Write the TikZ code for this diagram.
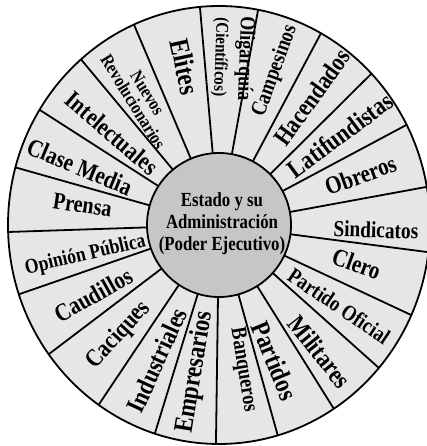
\documentclass[tikz,border=0pt]{standalone}
\usepackage{fontspec}
\setmainfont{Liberation Serif}
\usetikzlibrary{calc}
\definecolor{wheel}{RGB}{230,230,230}
\definecolor{hub}{RGB}{198,198,198}
\tikzset{spoke/.style={line width=1.8pt}, lbl/.style={inner sep=0pt,align=center,xscale=0.84}}

\begin{document}
\begin{tikzpicture}[x=1pt,y=1pt]
  \useasboundingbox (0,0) rectangle (427,446);
  \clip (0,0) rectangle (427,446);
  \coordinate (C) at (219,221);
  \fill[wheel] (C) ellipse [x radius=211pt,y radius=219pt];
  \begin{scope}
    \clip (C) ellipse [x radius=211pt,y radius=219pt];
    \foreach \a in {95.0,79.7,62.0,44.8,28.1,10.4,-7.4,-25.1,-41.8,-58.0,-74.4,-90.8,-107.1,-123.8,-142.8,-160.9,-178.1,164.2,147.3,129.8,113.0} \draw[spoke] ($(C)+(\a:72)$) -- ($(C)+(\a:240)$);
  \end{scope}
  \draw[spoke] (C) ellipse [x radius=211pt,y radius=219pt];
  \filldraw[spoke,fill=hub] (C) circle (72pt);
  \node[lbl,font=\fontsize{20}{22}\selectfont\bfseries] (estado) at ($(C)+(3,1)$) {Estado y su\\Administración\\(Poder Ejecutivo)};
  \foreach \a/\d/\r/\s/\t [count=\i] in {102.1/162/-77.9/28/Elites,121.7/150/-58.3/18.5/{Nuevos\\Revolucionarios},139.3/141/-40.7/25/Intelectuales,157.3/151/-22.7/25/Clase Media,171.7/138/-8.3/24/Prensa,192.8/137/13.1/21/Opinión Pública,209.1/144/29.1/25/Caudillos,227.7/149/47.7/25/Caciques,245.3/149/65.3/26/Industriales,260.7/149/80.7/27/Empresarios,-80.6/147/-80.6/22/Banqueros,-67.6/147/-67.6/27/Partidos,-51.5/162/-51.5/26/Militares,-34.0/145/-34.0/22/Partido Oficial,-15.8/143/-20/25/Clero,-1.8/157/-1.8/23/Sindicatos,19.4/150/20/25/Obreros,36.6/151/36.6/26/Latifundistas,54.0/158/54.0/25.5/Hacendados,70.0/164/70.0/22/Campesinos,81.2/168/-92/21.5/Oligarquía,89.7/168/-92/18/(Científicos)} \node[rotate=\r,lbl,font=\fontsize{\s}{17}\selectfont\bfseries] (g\i) at ($(C)+(\a:\d)$) {\t};
\end{tikzpicture}
\end{document}
